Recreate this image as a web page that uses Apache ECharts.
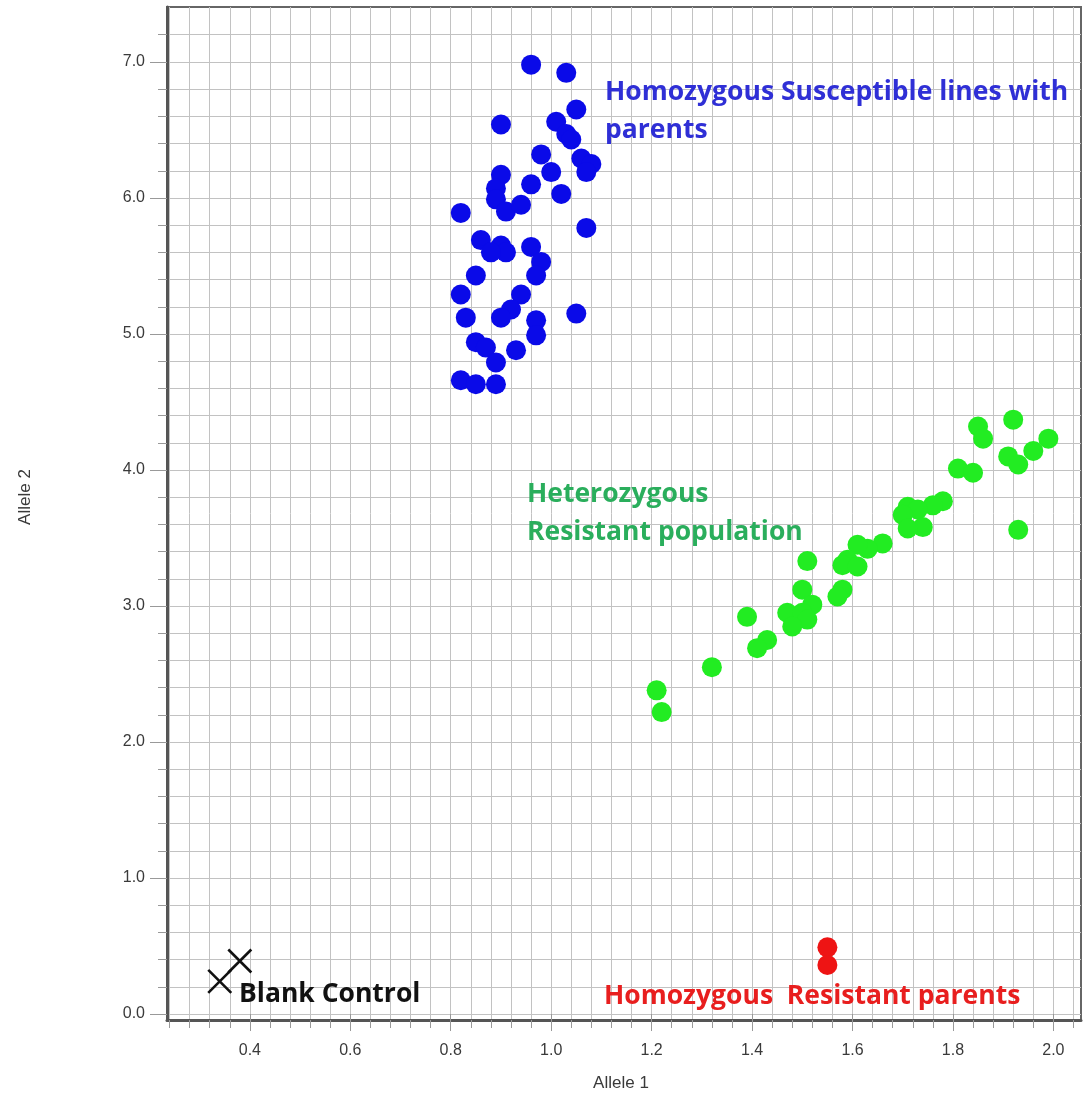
<!DOCTYPE html>
<html>
<head>
<meta charset="utf-8">
<script src="https://cdn.jsdelivr.net/npm/echarts@6/dist/echarts.min.js"></script>
<style>
  html, body { margin: 0; padding: 0; background: #fff; }
  #chart { width: 1090px; height: 1099px; }
</style>
</head>
<body>
<div id="chart"></div>
<script>
// Allele 1 / Allele 2 fluorescence values per genotype group
const susceptibleLines = [
  [0.96, 6.98], [1.03, 6.92], [1.05, 6.65], [0.90, 6.54], [1.01, 6.56],
  [1.03, 6.47], [1.04, 6.43], [0.98, 6.32], [1.06, 6.29], [1.08, 6.25],
  [1.07, 6.19], [1.00, 6.19], [0.90, 6.17], [0.96, 6.10], [1.02, 6.03],
  [0.89, 6.07], [0.89, 5.99], [0.91, 5.90], [0.94, 5.95], [0.82, 5.89],
  [1.07, 5.78], [0.86, 5.69], [0.90, 5.65], [0.91, 5.60], [0.88, 5.60],
  [0.96, 5.64], [0.98, 5.53], [0.97, 5.43], [0.85, 5.43], [0.94, 5.29],
  [0.82, 5.29], [0.92, 5.18], [0.90, 5.12], [0.83, 5.12], [0.97, 5.10],
  [0.97, 4.99], [1.05, 5.15], [0.85, 4.94], [0.87, 4.90], [0.89, 4.79],
  [0.93, 4.88], [0.82, 4.66], [0.85, 4.63], [0.89, 4.63]
];
const heterozygousPopulation = [
  [1.92, 4.37], [1.85, 4.32], [1.86, 4.23], [1.99, 4.23], [1.96, 4.14],
  [1.91, 4.10], [1.93, 4.04], [1.81, 4.01], [1.84, 3.98], [1.78, 3.77],
  [1.76, 3.74], [1.71, 3.73], [1.73, 3.71], [1.70, 3.67], [1.74, 3.58],
  [1.71, 3.57], [1.93, 3.56], [1.66, 3.46], [1.63, 3.42], [1.61, 3.45],
  [1.59, 3.34], [1.58, 3.30], [1.61, 3.29], [1.51, 3.33], [1.58, 3.12],
  [1.57, 3.07], [1.50, 3.12], [1.52, 3.01], [1.47, 2.95], [1.50, 2.95],
  [1.51, 2.90], [1.48, 2.85], [1.39, 2.92], [1.43, 2.75], [1.41, 2.69],
  [1.32, 2.55], [1.21, 2.38], [1.22, 2.22]
];
const resistantParents = [[1.55, 0.49], [1.55, 0.36]];
const blankControl = [[0.38, 0.39], [0.34, 0.24]];

// Labelled tick values
const allele1Ticks = [0.4, 0.6, 0.8, 1.0, 1.2, 1.4, 1.6, 1.8, 2.0];
const allele2Ticks = [0, 1, 2, 3, 4, 5, 6, 7];

// Axis extents
const X_MIN = 0.235, X_MAX = 2.055;
const Y_MIN = -0.044, Y_MAX = 7.404;

// Fine grid: every 0.04 on Allele 1, every 0.2 on Allele 2
function steps(from, to, step) {
  const out = [];
  for (let i = 0; from + i * step <= to + 1e-9; i++) {
    out.push(Math.round((from + i * step) * 1000) / 1000);
  }
  return out;
}
const xGrid = steps(0.24, 2.04, 0.04);
const yGrid = steps(0, 7.2, 0.2);

const AXIS_FONT = { color: '#3a3a3a', fontSize: 16, fontFamily: 'Liberation Sans, Arial, sans-serif' };
const NOTE_FONT = 'bold 26.5px "Open Sans", Lato, sans-serif';

const chart = echarts.init(document.getElementById('chart'), null, { renderer: 'canvas' });

chart.setOption({
  animation: false,
  backgroundColor: '#fff',
  grid: {
    left: 167, top: 7, right: 9, bottom: 79,
    show: true, borderColor: '#666', borderWidth: 2
  },
  xAxis: [
    {
      type: 'value', min: X_MIN, max: X_MAX, position: 'bottom',
      axisLine: { show: true, onZero: false, lineStyle: { color: '#555', width: 3 } },
      axisTick: { show: true, length: 8, customValues: xGrid, lineStyle: { color: '#999', width: 1 } },
      axisLabel: {
        show: true, customValues: allele1Ticks, margin: 23,
        formatter: v => v.toFixed(1), ...AXIS_FONT
      },
      splitLine: { show: true, lineStyle: { color: '#c2c2c2', width: 1 } }
    },
    {
      type: 'value', min: X_MIN, max: X_MAX, position: 'bottom',
      axisLine: { show: false },
      axisTick: { show: true, length: 17, customValues: allele1Ticks, lineStyle: { color: '#999', width: 1 } },
      axisLabel: { show: false },
      splitLine: { show: false }
    }
  ],
  yAxis: [
    {
      type: 'value', min: Y_MIN, max: Y_MAX, position: 'left',
      axisLine: { show: true, onZero: false, lineStyle: { color: '#555', width: 3 } },
      axisTick: { show: true, length: 9, customValues: yGrid, lineStyle: { color: '#999', width: 1 } },
      axisLabel: {
        show: true, customValues: allele2Ticks, margin: 22,
        formatter: v => v.toFixed(1), ...AXIS_FONT
      },
      splitLine: { show: true, lineStyle: { color: '#c2c2c2', width: 1 } }
    },
    {
      type: 'value', min: Y_MIN, max: Y_MAX, position: 'left',
      axisLine: { show: false },
      axisTick: { show: true, length: 17, customValues: allele2Ticks, lineStyle: { color: '#999', width: 1 } },
      axisLabel: { show: false },
      splitLine: { show: false }
    }
  ],
  series: [
    {
      name: 'Homozygous Susceptible', type: 'scatter', data: susceptibleLines,
      symbol: 'circle', symbolSize: 20, itemStyle: { color: '#0a0ae8', opacity: 1 }
    },
    {
      name: 'Heterozygous Resistant', type: 'scatter', data: heterozygousPopulation,
      symbol: 'circle', symbolSize: 20, itemStyle: { color: '#22ec22', opacity: 1 }
    },
    {
      name: 'Homozygous Resistant', type: 'scatter', data: resistantParents,
      symbol: 'circle', symbolSize: 20, itemStyle: { color: '#ee1414', opacity: 1 }
    },
    {
      name: 'Blank Control', type: 'scatter', data: blankControl,
      symbol: 'path://M0,0L10,10M10,0L0,10', symbolSize: 23,
      itemStyle: { color: 'none', borderColor: '#111', borderWidth: 2.6, opacity: 1 }
    }
  ],
  graphic: [
    { type: 'text', z: 100, x: 605, y: 92, style: { text: 'Homozygous Susceptible lines with', font: NOTE_FONT, fill: '#2f2fd6', verticalAlign: 'middle' } },
    { type: 'text', z: 100, x: 605, y: 130, style: { text: 'parents', font: NOTE_FONT, fill: '#2f2fd6', verticalAlign: 'middle' } },
    { type: 'text', z: 100, x: 527, y: 494, style: { text: 'Heterozygous', font: NOTE_FONT, fill: '#2aae5c', verticalAlign: 'middle' } },
    { type: 'text', z: 100, x: 527, y: 532, style: { text: 'Resistant population', font: NOTE_FONT, fill: '#2aae5c', verticalAlign: 'middle' } },
    { type: 'text', z: 100, x: 239, y: 994, style: { text: 'Blank Control', font: NOTE_FONT, fill: '#111', verticalAlign: 'middle' } },
    { type: 'text', z: 100, x: 604, y: 996, style: { text: 'Homozygous  Resistant parents', font: NOTE_FONT, fill: '#e81e1e', verticalAlign: 'middle' } },
    {
      type: 'text', z: 100, x: 25, y: 497, rotation: Math.PI / 2,
      style: { text: 'Allele 2', font: '17px "Liberation Sans", Arial, sans-serif', fill: '#3a3a3a', align: 'center', verticalAlign: 'middle' }
    },
    {
      type: 'text', z: 100, x: 621, y: 1083,
      style: { text: 'Allele 1', font: '17px "Liberation Sans", Arial, sans-serif', fill: '#3a3a3a', align: 'center', verticalAlign: 'middle' }
    }
  ]
});
</script>
</body>
</html>
